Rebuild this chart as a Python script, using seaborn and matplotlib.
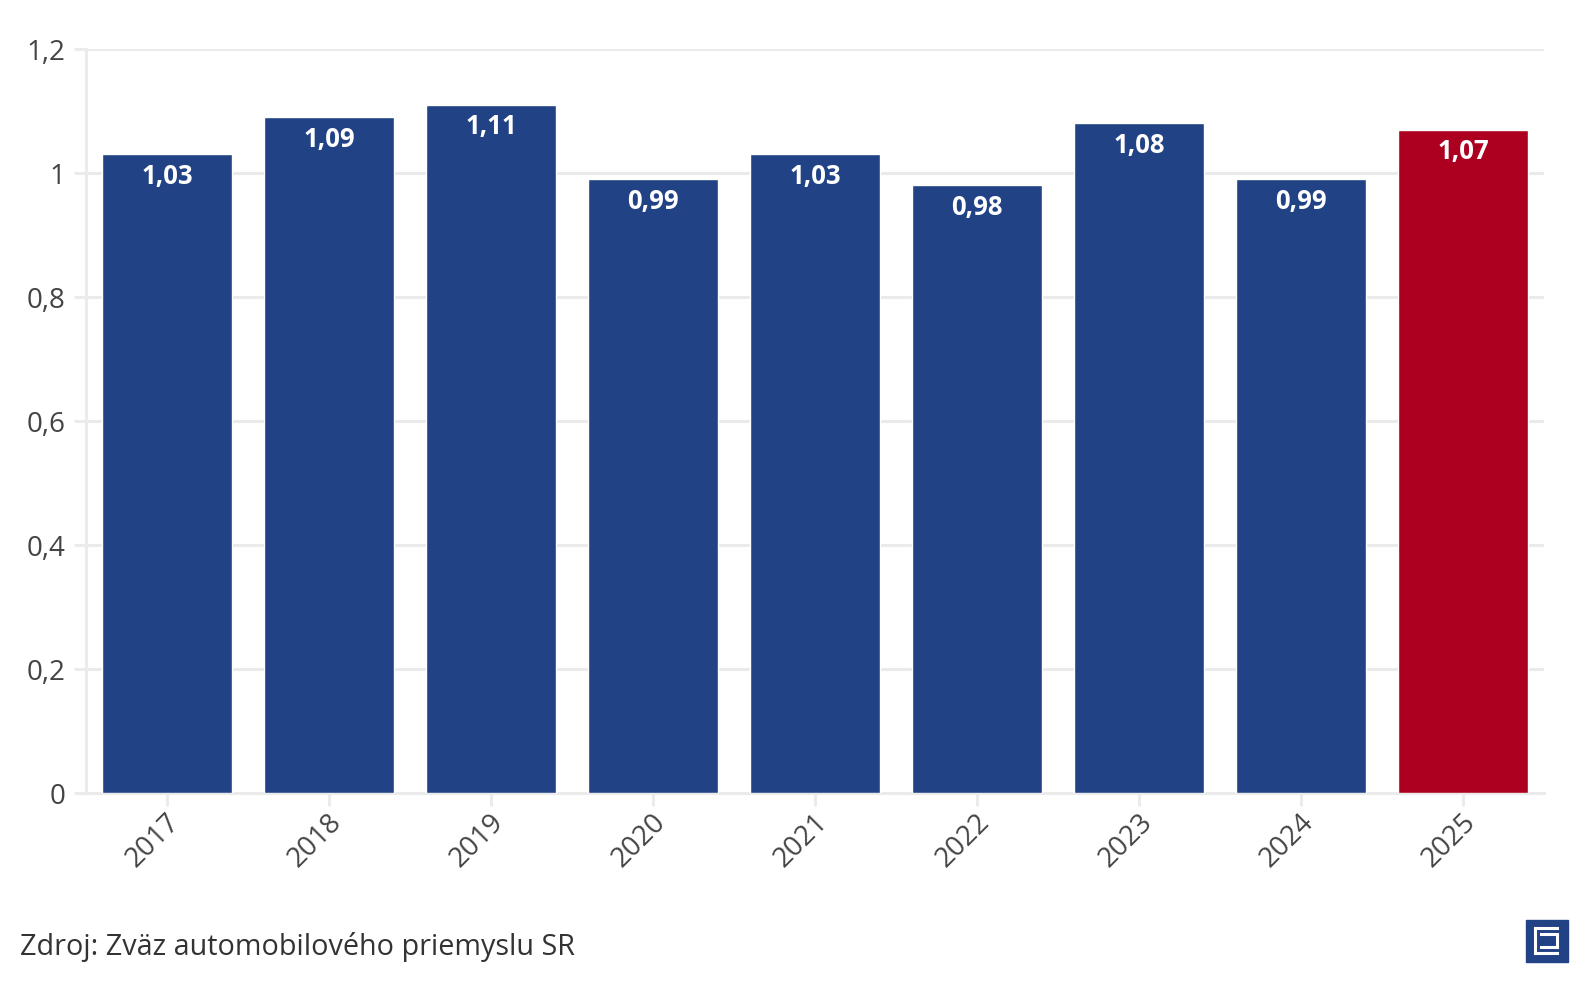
import matplotlib
matplotlib.use("Agg")
import matplotlib.pyplot as plt
import matplotlib.patches as mpatches
import matplotlib.transforms as mtransforms
from matplotlib.ticker import FuncFormatter
import seaborn as sns
import pandas as pd

years = ["2017", "2018", "2019", "2020", "2021", "2022", "2023", "2024", "2025"]
values = [1.03, 1.09, 1.11, 0.99, 1.03, 0.98, 1.08, 0.99, 1.07]
yticks = [0, 0.2, 0.4, 0.6, 0.8, 1.0, 1.2]
source = "Zdroj: Zväz automobilového priemyslu SR"

BLUE = "#214285"
RED = "#AD0020"
GRID = "#EBEBEB"
TXT = "#444444"

sns.set_style("white")
plt.rcParams["font.family"] = ["Open Sans", "DejaVu Sans"]

df = pd.DataFrame({"year": years, "value": values})
colors = [BLUE] * (len(years) - 1) + [RED]

fig = plt.figure(figsize=(15.88, 9.90), dpi=100)
ax = fig.add_axes([86 / 1588, 1 - 793 / 990, 1458 / 1588, 744 / 990])

sns.barplot(data=df, x="year", y="value", hue="year", palette=colors,
            legend=False, width=0.8, saturation=1, ax=ax, zorder=3)

ax.set_xlim(-0.5, len(years) - 0.5)
ax.set_ylim(0, 1.2)
ax.set_yticks(yticks)
ax.yaxis.set_major_formatter(FuncFormatter(lambda v, p: f"{v:g}".replace(".", ",")))
ax.set_xlabel("")
ax.set_ylabel("")

ax.grid(axis="y", color=GRID, linewidth=2.2, zorder=0)
ax.grid(axis="x", visible=False)
for s in ["top", "right"]:
    ax.spines[s].set_visible(False)
ax.spines["left"].set_color(GRID)
ax.spines["left"].set_linewidth(2.2)
ax.spines["bottom"].set_color(GRID)
ax.spines["bottom"].set_linewidth(2.2)

ax.tick_params(axis="y", length=9, width=2.2, color=GRID, labelsize=20,
               labelcolor=TXT, pad=6, left=True)
ax.tick_params(axis="x", length=9, width=2.2, color=GRID, labelsize=20,
               labelcolor=TXT, pad=12, bottom=True)
shift = mtransforms.ScaledTranslation(9 / 100, 4 / 100, fig.dpi_scale_trans)
for lab in ax.get_xticklabels():
    lab.set_rotation(45)
    lab.set_ha("right")
    lab.set_va("center")
    lab.set_rotation_mode("anchor")
    lab.set_transform(lab.get_transform() + shift)

for i, v in enumerate(values):
    ax.annotate(f"{v:.2f}".replace(".", ","), xy=(i, v), xytext=(0, -6),
                textcoords="offset points", ha="center", va="top",
                color="white", fontsize=18.5, fontweight="bold", zorder=4)

fig.text(20 / 1588, 1 - 947 / 990, source, fontsize=20.7, color="#333333",
         ha="left", va="center")

# logo
lx, ly, ls = 1526 / 1588, 1 - 962 / 990, 42
fig.patches.append(mpatches.Rectangle((lx, ly), ls / 1588, ls / 990,
                                      transform=fig.transFigure, color=BLUE))
def px(x, y):
    return (1526 + x) / 1588, 1 - (920 + y) / 990
segs = [[(9, 8), (31, 8)], [(9, 8), (9, 33)], [(9, 33), (31, 33)],
        [(15, 14), (31, 14)], [(31, 14), (31, 27)], [(15, 27), (31, 27)]]
for a, b in segs:
    (x0, y0), (x1, y1) = px(*a), px(*b)
    fig.add_artist(plt.Line2D([x0, x1], [y0, y1], transform=fig.transFigure,
                              color="white", linewidth=2.2, solid_capstyle="projecting"))

fig.savefig("out.png", dpi=100)
